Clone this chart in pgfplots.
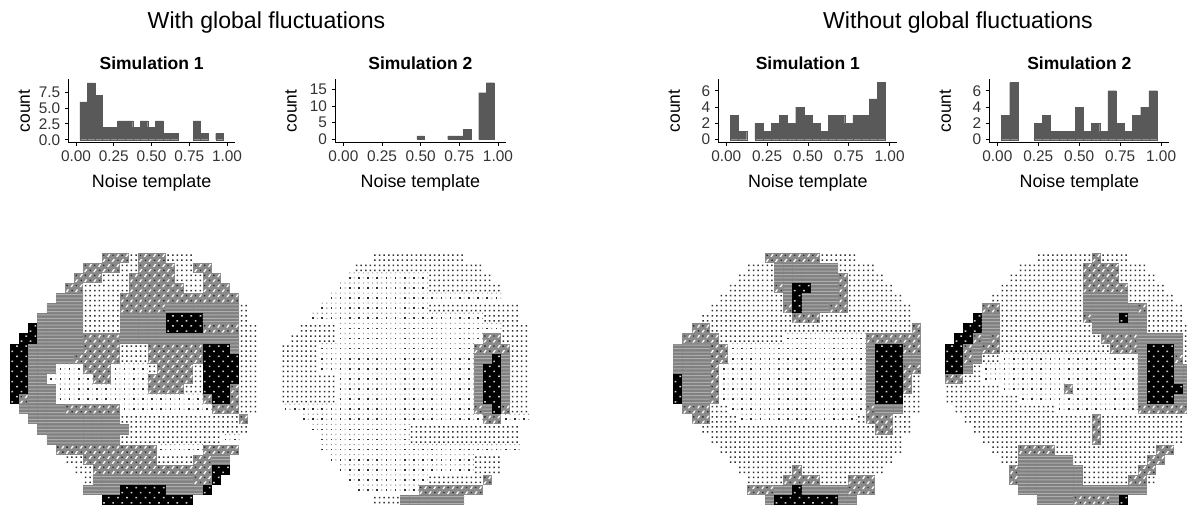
\documentclass[border=0pt]{standalone}
\usepackage{fontspec}
\setmainfont{Liberation Sans}
\usepackage{pgfplots}
\usepackage{pgfplotstable}
\pgfplotsset{compat=1.18}
\definecolor{histgray}{HTML}{595959}
\definecolor{tickgray}{HTML}{333333}
\definecolor{dA}{HTML}{303030}
\definecolor{dB}{HTML}{989898}
\definecolor{dC}{HTML}{8A8A8A}
\definecolor{dD}{HTML}{808080}
\definecolor{dE}{HTML}{AEAEAE}
\definecolor{dF}{HTML}{CFCFCF}
\definecolor{dG}{HTML}{2E2E2E}
\def\dd#1#2#3#4{\pgfpathrectangle{\pgfpoint{#1pt}{#2pt}}{\pgfpoint{#3pt}{#4pt}}}
\pgfdeclareplotmark{mk0}{}
\pgfdeclareplotmark{mk1}{%
  \pgfsetfillcolor{dB}\dd{3.9}{-.55}{1.1}{1.1}\dd{-.55}{4.5}{1.1}{1.1}\dd{3.9}{4.5}{1.1}{1.1}\pgfusepathqfill
  \pgfsetfillcolor{dA}\dd{-.85}{-.85}{1.7}{1.7}\pgfusepathqfill}
\pgfdeclareplotmark{mk2}{%
  \pgfsetfillcolor{dA}\dd{-3.05}{-3.25}{1.5}{1.5}\dd{1.55}{-3.25}{1.5}{1.5}\dd{-3.05}{1.75}{1.5}{1.5}\dd{1.55}{1.75}{1.5}{1.5}\pgfusepathqfill}
\pgfdeclareplotmark{mk3}{%
  \pgfsetfillcolor{dC}\dd{-4.6}{-5.07}{9.2}{10.14}\pgfusepathqfill
  \pgfsetfillcolor{white}%
  \pgfpathmoveto{\pgfpoint{-3.9pt}{-4.2pt}}\pgfpathlineto{\pgfpoint{-2.4pt}{-4.2pt}}\pgfpathlineto{\pgfpoint{-.6pt}{-1.4pt}}\pgfpathlineto{\pgfpoint{-2.1pt}{-1.4pt}}\pgfpathclose
  \pgfpathmoveto{\pgfpoint{.8pt}{.9pt}}\pgfpathlineto{\pgfpoint{2.3pt}{.9pt}}\pgfpathlineto{\pgfpoint{4.1pt}{3.7pt}}\pgfpathlineto{\pgfpoint{2.6pt}{3.7pt}}\pgfpathclose
  \pgfusepathqfill
  \pgfsetfillcolor{dG}\dd{1.8}{-3.2}{1.4}{1.4}\dd{-3.2}{1.8}{1.4}{1.4}\pgfusepathqfill}
\pgfdeclareplotmark{mk4}{%
  \pgfsetfillcolor{dD}\dd{-4.6}{-5.07}{9.2}{10.14}\pgfusepathqfill
  \pgfsetfillcolor{dE}\dd{-4.6}{-3.9}{9.2}{1}\dd{-4.6}{-.5}{9.2}{1}\dd{-4.6}{2.9}{9.2}{1}\pgfusepathqfill}
\pgfdeclareplotmark{mk5}{%
  \pgfsetfillcolor{black}\dd{-4.6}{-5.07}{9.2}{10.14}\pgfusepathqfill
  \pgfsetfillcolor{dF}\dd{-3.2}{-3.4}{1.7}{1.5}\dd{1.6}{1.7}{1.7}{1.5}\pgfusepathqfill}
\pgfplotsset{
  cellmap/.style={only marks, scatter, forget plot, scatter src=explicit symbolic,
    scatter/classes={0={mark=mk0},1={mark=mk1},2={mark=mk2},3={mark=mk3},4={mark=mk4},5={mark=mk5}}},
  mapaxis/.style={anchor=south west, scale only axis, width=243pt, height=252.5pt,
    xmin=-0.5, xmax=26, ymin=-24.5, ymax=0.5, hide axis},
  histaxis/.style={anchor=south west, scale only axis, height=63pt,
    axis x line*=bottom, axis y line*=left, axis line style={-, black, line width=.9pt},
    tick style={black, line width=.9pt}, major tick length=3.5pt, tick align=outside,
    xtick={0,0.25,0.5,0.75,1},
    tick label style={font=\fontsize{15.4}{17}\selectfont, text=tickgray},
    /pgf/number format/assume math mode=true,
    xticklabel style={yshift=-1.5pt, /pgf/number format/.cd, fixed, fixed zerofill, precision=2, assume math mode=true},
    yticklabel style={xshift=-1pt},
    every axis title/.style={at={(axis description cs:0.5,1)}, anchor=center, yshift=16.3pt, font=\fontsize{17.5}{20}\selectfont\bfseries},
    every axis x label/.style={at={(axis description cs:0.5,0)}, anchor=center, yshift=-40.4pt, font=\fontsize{17.9}{20}\selectfont},
    every axis y label/.style={at={(axis description cs:0,0.5)}, anchor=center, rotate=90, yshift=44pt, font=\fontsize{17.4}{20}\selectfont},
    xlabel={Noise template}, ylabel={count}},
  histbar/.style={ybar, bar width=0.05, bar shift=0pt, fill=histgray, draw=histgray, line width=.15pt, forget plot},
}
\pgfplotstableread[header=false]{
0 0 0 0 0 0 0 0 0 0 3 3 3 2 3 3 3 2 2 2 0 0 0 0 0 0 0
0 0 0 0 0 0 0 0 3 3 3 3 2 2 3 3 3 3 2 2 3 3 0 0 0 0 0
0 0 0 0 0 0 0 3 3 3 2 2 2 3 3 3 3 3 2 2 2 3 3 0 0 0 0
0 0 0 0 0 0 3 3 2 2 2 2 2 3 3 3 3 3 3 2 2 3 3 3 0 0 0
0 0 0 0 0 4 4 4 2 2 2 2 3 3 3 3 3 3 3 3 3 3 3 3 3 0 0
0 0 0 0 4 4 4 4 2 2 2 2 3 3 3 3 3 4 4 4 4 4 4 4 4 2 0
0 0 0 4 4 4 4 4 2 2 2 2 4 4 4 4 4 5 5 5 5 4 4 4 4 2 0
0 0 5 4 4 4 4 4 2 2 2 2 4 4 4 4 4 5 5 5 5 3 3 3 3 2 2
0 5 5 4 4 4 4 4 3 3 3 3 4 4 4 4 4 4 4 4 4 4 4 4 4 2 2
5 5 4 4 4 4 4 4 3 3 3 3 2 2 2 3 3 3 3 3 3 5 5 5 4 2 2
5 5 4 4 4 4 4 3 3 3 3 3 2 2 2 3 3 3 3 3 3 5 5 5 5 2 2
5 5 4 4 4 1 1 1 3 3 3 1 1 1 1 2 3 3 3 3 2 5 5 5 5 2 2
5 5 4 4 1 1 1 1 1 3 3 1 1 1 1 3 3 3 3 3 2 5 5 5 5 2 2
5 5 4 4 4 1 1 1 1 1 1 1 1 1 1 3 3 3 3 2 2 5 5 5 3 2 2
5 3 4 4 4 1 1 1 1 1 1 1 1 1 1 1 1 1 1 1 1 3 5 5 3 2 2
0 4 4 4 4 4 3 3 3 3 3 3 1 1 1 1 1 1 1 1 1 1 3 3 3 2 2
0 0 4 4 4 4 4 4 4 4 4 4 2 2 2 2 2 2 2 2 2 2 2 2 2 3 0
0 0 0 4 4 4 4 4 4 4 4 4 4 2 2 2 2 2 2 2 2 2 2 2 2 2 0
0 0 0 0 4 4 4 4 4 4 4 4 2 2 2 2 2 2 2 2 2 2 2 1 1 0 0
0 0 0 0 0 3 3 3 3 3 3 3 3 3 3 3 1 1 1 1 1 3 3 3 3 0 0
0 0 0 0 0 0 2 2 3 3 3 3 3 3 3 3 2 2 2 2 3 3 4 4 0 0 0
0 0 0 0 0 0 0 2 2 3 3 3 3 3 3 3 3 3 3 3 3 3 5 5 0 0 0
0 0 0 0 0 0 0 0 2 4 4 4 4 4 4 4 4 4 4 4 3 3 5 0 0 0 0
0 0 0 0 0 0 0 0 4 4 4 4 5 5 5 5 5 4 4 4 4 5 0 0 0 0 0
0 0 0 0 0 0 0 0 0 0 5 5 5 5 5 5 5 5 5 5 0 0 0 0 0 0 0
}\mapA
\pgfplotstableread[header=false]{
0 0 0 0 0 0 0 0 0 0 2 2 2 2 2 2 2 2 2 2 0 0 0 0 0 0 0
0 0 0 0 0 0 0 0 2 2 2 2 2 2 2 2 2 2 2 2 2 2 0 0 0 0 0
0 0 0 0 0 0 0 1 1 1 1 1 1 1 1 1 2 2 2 2 2 2 2 0 0 0 0
0 0 0 0 0 0 1 1 1 1 1 1 1 1 1 1 2 2 2 2 2 2 2 2 0 0 0
0 0 0 0 0 1 1 1 1 1 1 1 1 1 1 1 1 1 1 1 1 1 1 1 0 0 0
0 0 0 0 1 1 1 1 1 1 1 1 1 1 1 1 2 2 2 2 2 2 2 2 2 2 0
0 0 0 1 1 1 1 1 1 1 1 1 1 1 1 1 1 1 1 1 1 1 2 2 2 2 0
0 0 2 2 2 2 1 1 1 1 1 1 1 1 1 1 1 1 1 1 1 1 1 1 2 2 2
0 2 2 2 2 2 1 1 1 1 1 1 1 1 1 1 1 1 1 1 1 1 3 3 2 2 2
2 2 2 2 1 1 1 1 1 1 1 1 1 1 1 1 1 1 1 1 1 3 3 3 3 2 2
2 2 2 2 1 1 1 1 1 1 1 1 1 1 1 1 1 1 1 1 1 4 4 5 4 2 2
2 2 2 2 1 1 1 1 1 1 1 1 1 1 1 1 1 1 1 1 1 4 5 5 4 2 2
2 2 2 2 2 2 1 1 1 1 1 1 1 1 1 1 1 1 1 1 1 4 5 5 4 2 2
2 2 2 2 2 2 1 1 1 1 1 1 1 1 1 1 1 1 1 1 1 4 5 5 4 2 2
2 2 2 2 2 2 1 1 1 1 1 1 1 1 1 1 1 1 1 1 1 4 5 5 4 2 2
1 1 1 1 1 1 1 1 1 1 1 1 1 1 1 1 1 1 1 1 1 3 4 5 3 2 2
0 0 1 1 1 1 1 1 1 1 1 1 1 1 1 1 1 1 1 1 1 1 3 3 1 1 1
0 0 0 1 1 1 1 1 1 1 1 1 1 1 2 2 2 2 2 2 2 2 2 2 2 2 0
0 0 0 0 1 1 1 1 1 1 1 1 1 1 2 2 2 2 2 2 2 2 2 2 2 2 0
0 0 0 0 1 1 1 1 1 1 1 1 1 1 1 1 1 1 1 1 1 1 1 1 1 1 0
0 0 0 0 0 1 1 1 1 1 1 1 1 1 1 1 1 1 1 1 1 2 2 2 0 0 0
0 0 0 0 0 0 1 1 1 1 1 1 1 1 1 1 1 1 1 1 1 2 2 2 0 0 0
0 0 0 0 0 0 0 1 1 1 1 1 1 1 1 1 2 2 2 2 2 2 3 0 0 0 0
0 0 0 0 0 0 0 0 1 1 1 1 1 1 1 3 3 3 3 3 3 3 0 0 0 0 0
0 0 0 0 0 0 0 0 0 0 2 2 2 4 4 4 4 4 4 4 0 0 0 0 0 0 0
}\mapB
\pgfplotstableread[header=false]{
0 0 0 0 0 0 0 0 0 0 3 3 3 3 3 3 2 2 2 2 0 0 0 0 0 0 0
0 0 0 0 0 0 0 0 2 2 2 4 4 4 4 4 4 4 2 2 2 2 0 0 0 0 0
0 0 0 0 0 0 0 2 2 2 2 4 4 4 4 4 4 4 3 2 2 2 2 0 0 0 0
0 0 0 0 0 0 2 2 2 2 2 3 4 5 5 4 4 4 3 2 2 2 2 2 0 0 0
0 0 0 0 0 2 2 2 2 2 2 2 4 5 4 4 4 4 3 2 2 2 2 2 2 0 0
0 0 0 0 2 2 2 2 2 2 2 2 3 5 4 4 4 3 3 2 2 2 2 2 2 2 0
0 0 0 2 2 2 2 2 2 2 2 2 2 3 3 3 2 2 2 2 2 2 2 2 2 2 0
0 0 3 3 2 2 2 2 2 2 2 2 2 2 2 2 2 2 2 2 2 2 2 2 2 2 3
0 3 3 3 3 2 2 2 2 2 2 2 1 1 1 1 1 1 1 1 1 3 3 3 3 3 3
4 4 4 4 3 3 1 1 1 1 1 1 1 1 1 1 1 1 1 1 1 4 5 5 5 3 3
4 4 4 4 3 3 1 1 1 1 1 1 1 1 1 1 1 1 1 1 1 4 5 5 5 4 4
4 4 4 4 3 1 1 1 1 1 1 1 1 1 1 1 1 1 1 1 1 4 5 5 5 3 3
5 4 4 4 3 1 1 1 1 1 1 1 1 1 1 1 1 1 1 1 1 4 5 5 5 3 2
5 4 4 4 3 1 1 1 1 1 1 1 1 1 1 1 1 1 1 1 1 4 5 5 5 3 2
5 4 4 4 3 1 1 1 1 1 1 1 1 1 1 1 1 1 1 1 1 4 5 5 5 2 2
0 3 3 3 2 2 1 1 1 1 1 1 1 1 1 1 1 1 1 1 1 3 4 4 4 2 2
0 0 3 3 2 2 2 1 1 1 1 1 1 1 1 1 1 1 1 1 2 3 3 3 2 2 0
0 0 0 2 2 2 2 2 2 2 2 2 2 2 2 2 2 2 2 2 2 2 3 3 2 2 0
0 0 0 0 2 2 2 2 2 2 2 2 2 2 2 2 2 2 2 2 2 2 2 2 2 0 0
0 0 0 0 0 2 2 2 2 2 2 2 2 2 2 2 2 2 2 2 2 2 2 2 2 0 0
0 0 0 0 0 0 2 2 2 2 2 2 2 2 2 2 2 2 2 2 2 2 2 2 0 0 0
0 0 0 0 0 0 0 2 2 2 2 2 2 3 2 2 2 2 2 2 2 2 2 0 0 0 0
0 0 0 0 0 0 0 0 2 2 2 2 3 3 3 3 2 2 2 3 3 3 0 0 0 0 0
0 0 0 0 0 0 0 0 3 3 3 4 4 5 4 4 4 4 4 3 3 3 0 0 0 0 0
0 0 0 0 0 0 0 0 0 0 4 5 5 5 5 5 5 5 4 4 0 0 0 0 0 0 0
}\mapC
\pgfplotstableread[header=false]{
0 0 0 0 0 0 0 0 0 0 2 2 2 2 2 2 3 2 2 2 0 0 0 0 0 0 0
0 0 0 0 0 0 0 0 2 2 2 2 2 2 2 3 3 3 3 2 2 2 0 0 0 0 0
0 0 0 0 0 0 0 2 2 2 2 2 2 2 2 3 3 3 3 2 2 2 2 0 0 0 0
0 0 0 0 0 0 2 2 2 2 2 2 2 2 2 3 3 3 3 3 2 2 2 2 0 0 0
0 0 0 0 0 2 2 2 2 2 2 2 2 2 2 4 4 4 4 4 2 2 2 2 2 0 0
0 0 0 0 3 3 2 2 2 2 2 2 2 2 2 4 4 4 4 4 4 3 2 2 2 2 0
0 0 0 5 4 4 2 2 2 2 2 2 2 2 2 3 4 4 4 5 4 4 2 2 2 2 0
0 0 5 5 4 4 2 2 2 2 2 2 2 2 2 2 4 4 4 4 4 4 2 2 2 2 2
0 5 5 3 4 3 2 2 2 2 2 2 2 2 2 2 2 3 3 3 3 4 4 4 4 4 2
5 5 3 4 3 3 2 2 2 2 2 2 2 2 2 2 2 2 3 3 3 4 5 5 5 4 2
5 5 3 4 2 2 1 1 1 1 1 1 1 1 1 1 1 1 1 1 1 4 5 5 5 3 2
5 5 4 2 1 1 1 1 1 1 1 1 1 1 1 1 1 1 1 1 1 4 5 5 5 4 4
3 3 2 2 1 1 1 1 1 1 1 1 1 1 1 1 1 1 1 1 1 4 5 5 5 4 4
2 2 2 2 2 2 1 1 1 1 1 1 1 3 1 1 1 1 1 1 1 4 5 5 5 5 4
2 2 2 2 2 2 2 2 1 1 1 1 1 1 1 1 1 1 1 1 1 4 5 5 5 4 4
0 2 2 2 2 2 2 2 2 2 2 2 1 1 1 1 1 1 1 1 1 3 3 3 3 3 3
0 0 2 2 2 2 2 2 2 2 2 2 2 2 2 2 3 2 2 2 2 2 2 2 2 2 0
0 0 0 2 2 2 2 2 2 2 2 2 2 2 2 2 3 2 2 2 2 2 2 2 2 2 0
0 0 0 0 2 2 2 2 2 2 2 2 2 2 2 2 3 2 2 2 2 2 2 2 2 2 0
0 0 0 0 0 2 2 2 3 3 3 3 2 2 2 2 2 2 2 2 2 2 2 3 3 0 0
0 0 0 0 0 0 2 2 4 4 4 4 4 4 2 2 2 2 2 2 2 2 3 3 0 0 0
0 0 0 0 0 0 0 3 4 4 4 4 4 4 4 2 2 2 2 2 2 3 3 0 0 0 0
0 0 0 0 0 0 0 3 4 4 4 4 4 4 4 2 2 2 2 2 3 3 2 0 0 0 0
0 0 0 0 0 0 0 0 4 4 4 4 4 4 4 4 4 4 4 4 4 4 0 0 0 0 0
0 0 0 0 0 0 0 0 0 0 4 4 4 4 3 3 3 3 4 5 0 0 0 0 0 0 0
}\mapD
\begin{document}
\begin{tikzpicture}[x=1pt,y=1pt]
\useasboundingbox (0,0) rectangle (1187,510);
\node[font=\fontsize{23.1}{27}\selectfont] at (266.5,487) {With global fluctuations};
\node[font=\fontsize{23.1}{27}\selectfont] at (958,487) {Without global fluctuations};

\begin{axis}[histaxis, at={(68.3pt,367.7pt)}, width=166.7pt, title={Simulation 1},
  xmin=-0.051, xmax=1.053, ymin=-0.41, ymax=9.57, ytick={0,2.5,5,7.5},
  yticklabel style={/pgf/number format/.cd, fixed, fixed zerofill, precision=1, assume math mode=true}]
\addplot[histbar] coordinates {(0.05,6)(0.10,9)(0.15,7)(0.20,2)(0.25,2)(0.30,3)(0.35,3)(0.40,2)(0.45,3)(0.50,2)(0.55,3)(0.60,1)(0.65,1)(0.80,3)(0.85,1)(0.95,1)};
\end{axis}
\begin{axis}[histaxis, at={(335pt,367.7pt)}, width=170.7pt, title={Simulation 2},
  xmin=-0.054, xmax=1.05, ymin=-0.9, ymax=18, ytick={0,5,10,15}]
\addplot[histbar] coordinates {(0.50,1)(0.70,1)(0.75,1)(0.80,3)(0.90,14)(0.95,17)};
\end{axis}
\begin{axis}[histaxis, at={(718.3pt,367.7pt)}, width=179pt, title={Simulation 1},
  xmin=-0.049, xmax=1.047, ymin=-0.32, ymax=7.4, ytick={0,2,4,6}]
\addplot[histbar] coordinates {(0.05,3)(0.10,1)(0.20,2)(0.25,1)(0.30,2)(0.35,3)(0.40,2)(0.45,4)(0.50,3)(0.55,2)(0.60,1)(0.65,3)(0.70,3)(0.75,2)(0.80,3)(0.85,3)(0.90,5)(0.95,7)};
\end{axis}
\begin{axis}[histaxis, at={(989.3pt,367.7pt)}, width=180pt, title={Simulation 2},
  xmin=-0.049, xmax=1.05, ymin=-0.32, ymax=7.4, ytick={0,2,4,6}]
\addplot[histbar] coordinates {(0.05,3)(0.10,7)(0.25,2)(0.30,3)(0.35,1)(0.40,1)(0.45,1)(0.50,4)(0.55,1)(0.60,2)(0.65,1)(0.70,6)(0.75,2)(0.80,1)(0.85,3)(0.90,4)(0.95,6)};
\end{axis}

\begin{axis}[mapaxis, at={(10pt,4.8pt)}]
\pgfplotsinvokeforeach{0,...,26}{\addplot[cellmap] table[x expr=#1, y expr=-\coordindex, meta index=#1] \mapA;}
\end{axis}
\begin{axis}[mapaxis, at={(281pt,4.8pt)}]
\pgfplotsinvokeforeach{0,...,26}{\addplot[cellmap] table[x expr=#1, y expr=-\coordindex, meta index=#1] \mapB;}
\end{axis}
\begin{axis}[mapaxis, at={(673.3pt,4.8pt)}]
\pgfplotsinvokeforeach{0,...,26}{\addplot[cellmap] table[x expr=#1, y expr=-\coordindex, meta index=#1] \mapC;}
\end{axis}
\begin{axis}[mapaxis, at={(945pt,4.8pt)}]
\pgfplotsinvokeforeach{0,...,26}{\addplot[cellmap] table[x expr=#1, y expr=-\coordindex, meta index=#1] \mapD;}
\end{axis}
\end{tikzpicture}
\end{document}
